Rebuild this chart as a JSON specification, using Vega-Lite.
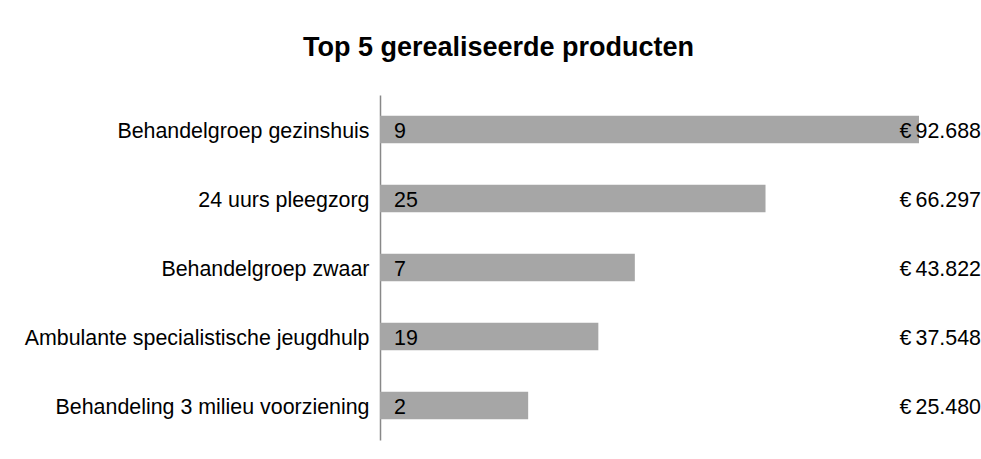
{
  "$schema": "https://vega.github.io/schema/vega-lite/v6.json",
  "width": 601,
  "height": 345,
  "autosize": {"type": "none"},
  "padding": {"left": 380, "top": 95, "right": 0, "bottom": 19},
  "background": "white",
  "title": {
    "text": "Top 5 gerealiseerde producten",
    "font": "Liberation Sans",
    "fontSize": 27,
    "fontWeight": "bold",
    "color": "black",
    "anchor": "middle",
    "frame": "group",
    "dx": -182,
    "offset": 33
  },
  "config": {
    "view": {"stroke": null},
    "locale": {"number": {"decimal": ",", "thousands": ".", "grouping": [3], "currency": ["€\u2009", ""]}}
  },
  "data": {
    "values": [
      {"product": "Behandelgroep gezinshuis", "aantal": 9, "bedrag": 92688},
      {"product": "24 uurs pleegzorg", "aantal": 25, "bedrag": 66297},
      {"product": "Behandelgroep zwaar", "aantal": 7, "bedrag": 43822},
      {"product": "Ambulante specialistische jeugdhulp", "aantal": 19, "bedrag": 37548},
      {"product": "Behandeling 3 milieu voorziening", "aantal": 2, "bedrag": 25480}
    ]
  },
  "encoding": {
    "y": {
      "field": "product",
      "type": "nominal",
      "sort": null,
      "title": null,
      "scale": {"paddingInner": 0.6, "paddingOuter": 0.3},
      "axis": {
        "ticks": false,
        "labelFont": "Liberation Sans",
        "labelFontSize": 21.4,
        "labelColor": "black",
        "labelPadding": 11,
        "labelLimit": 400,
        "labelOffset": 2,
        "domainColor": "#888888",
        "domainWidth": 1.5,
        "grid": false
      }
    }
  },
  "layer": [
    {
      "mark": {"type": "bar", "color": "#a6a6a6"},
      "encoding": {
        "x": {"field": "bedrag", "type": "quantitative", "scale": {"domain": [0, 103353], "nice": false}, "axis": null}
      }
    },
    {
      "mark": {"type": "text", "align": "left", "baseline": "middle", "dx": 14, "dy": 2, "font": "Liberation Sans", "fontSize": 21.4, "color": "black"},
      "encoding": {
        "x": {"datum": 0, "type": "quantitative"},
        "text": {"field": "aantal", "type": "quantitative"}
      }
    },
    {
      "mark": {"type": "text", "align": "right", "baseline": "middle", "dy": 2, "font": "Liberation Sans", "fontSize": 21.4, "color": "black"},
      "encoding": {
        "x": {"datum": 103353, "type": "quantitative"},
        "text": {"field": "bedrag", "type": "quantitative", "format": "$,.0f"}
      }
    }
  ]
}
